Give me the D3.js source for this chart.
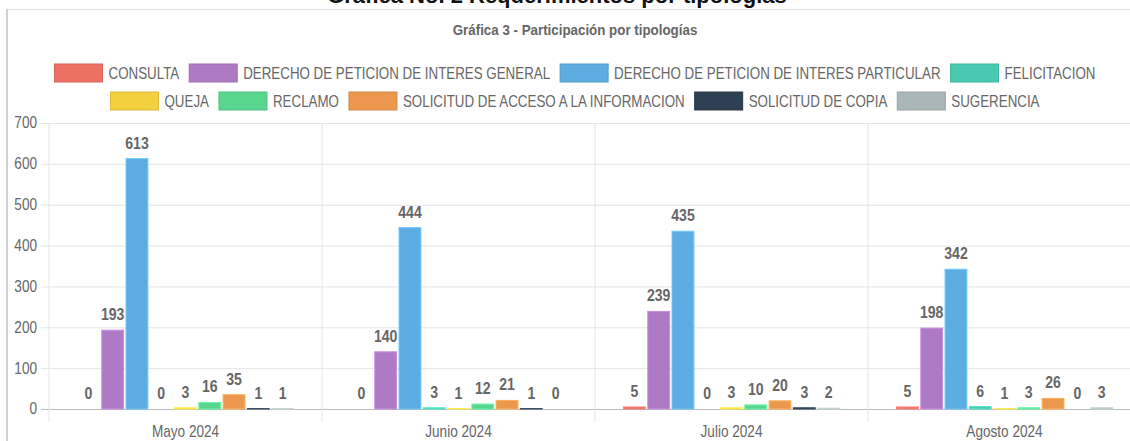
<!DOCTYPE html>
<html>
<head>
<meta charset="utf-8">
<script src="https://cdn.jsdelivr.net/npm/d3@7"></script>
<style>
  html, body { margin: 0; padding: 0; background: #fff; }
  svg { display: block; }
</style>
</head>
<body>
<div id="chart"></div>
<script>
// data
const months = ['Mayo 2024', 'Junio 2024', 'Julio 2024', 'Agosto 2024'];
const series = [
  'CONSULTA',
  'DERECHO DE PETICION DE INTERES GENERAL',
  'DERECHO DE PETICION DE INTERES PARTICULAR',
  'FELICITACION',
  'QUEJA',
  'RECLAMO',
  'SOLICITUD DE ACCESO A LA INFORMACION',
  'SOLICITUD DE COPIA',
  'SUGERENCIA'
];
const consulta      = [0, 0, 5, 5];
const derechoGen    = [193, 140, 239, 198];
const derechoPart   = [613, 444, 435, 342];
const felicitacion  = [0, 3, 0, 6];
const queja         = [3, 1, 3, 1];
const reclamo       = [16, 12, 10, 3];
const solAcceso     = [35, 21, 20, 26];
const solCopia      = [1, 1, 3, 0];
const sugerencia    = [1, 0, 2, 3];
const values = [consulta, derechoGen, derechoPart, felicitacion, queja, reclamo, solAcceso, solCopia, sugerencia];
const colors = ['#EC7063', '#AF7AC5', '#5DADE2', '#48C9B0', '#F4D03F', '#58D68D', '#EB984E', '#2E4053', '#AAB7B8'];
const yTicks = [0, 100, 200, 300, 400, 500, 600, 700];

const width = 1130, height = 441;
const font = '"Liberation Sans", Arial, sans-serif';
const textGrey = '#666';
// no narrow font installed, so squeeze the glyphs sideways
const squeeze = 0.85;
const legend_squeeze = 0.835;

const margin = {top: 123, bottom: 409, left: 49, right: 1141};
const legend_box = {width: 48, height: 18, gap: 6, pad: 10};

const svg = d3.select('#chart').append('svg').attr('width', width).attr('height', height);

// text helper: places a horizontally condensed label
function narrowText(parent, x, y, str, size, opts = {}) {
  const s = opts.scale || squeeze;
  return parent.append('text')
    .attr('transform', `translate(${x},${y}) scale(${s},1)`)
    .attr('text-anchor', opts.anchor || 'start')
    .attr('dy', opts.dy || null)
    .style('font-family', font)
    .style('font-size', size + 'px')
    .style('font-weight', opts.bold ? 'bold' : null)
    .attr('fill', opts.fill || textGrey)
    .text(str);
}

// card frame
svg.append('line').attr('x1', 7).attr('x2', width).attr('y1', 9.5).attr('y2', 9.5)
  .attr('stroke', '#ddd').attr('stroke-width', 1);
svg.append('line').attr('x1', 7).attr('x2', 7).attr('y1', 9).attr('y2', height)
  .attr('stroke', '#d0d0d0').attr('stroke-width', 2);

// page heading above the card (cut by the top edge, like the reference)
svg.append('text')
  .attr('x', 557).attr('y', 3)
  .attr('text-anchor', 'middle')
  .style('font-family', font)
  .style('font-weight', 'bold').style('font-size', '22px')
  .attr('fill', '#111')
  .text('Gráfica No. 2 Requerimientos por tipologías');

// chart title
narrowText(svg, 575, 35, 'Gráfica 3 - Participación por tipologías', 15, {anchor: 'middle', bold: true, scale: 0.89});

// legend, wrapped and centred like chart.js does
const legend = svg.append('g').attr('class', 'legend');
const items = series.map((name, i) => {
  const g = legend.append('g');
  g.append('rect')
    .attr('width', legend_box.width).attr('height', legend_box.height)
    .attr('fill', colors[i])
    .attr('stroke', d3.color(colors[i]).darker(0.3)).attr('stroke-width', 1);
  const t = narrowText(g, legend_box.width + legend_box.gap, legend_box.height / 2, name, 16,
    {dy: '0.36em', scale: legend_squeeze});
  const w = legend_box.width + legend_box.gap + t.node().getComputedTextLength() * legend_squeeze;
  return {g, w};
});
const rows = [[]];
let rowW = 0;
items.forEach(it => {
  const cur = rows[rows.length - 1];
  const add = (cur.length ? legend_box.pad : 0) + it.w;
  if (rowW + add > 1110 && cur.length) {
    rows.push([it]);
    rowW = it.w;
  } else {
    cur.push(it);
    rowW += add;
  }
});
rows.forEach((row, r) => {
  const total = d3.sum(row, d => d.w) + legend_box.pad * (row.length - 1);
  let x = 575 - total / 2;
  row.forEach(it => {
    it.g.attr('transform', `translate(${x},${64 + r * 28})`);
    x += it.w + legend_box.pad;
  });
});

// scales
const x = d3.scaleBand().domain(months).range([margin.left, margin.right]);
const bw = x.bandwidth();
const xs = d3.scaleBand().domain(d3.range(series.length))
  .range([bw * 0.1, bw * 0.9]).paddingInner(0.1).paddingOuter(0.05);
const y = d3.scaleLinear().domain([0, 700]).range([margin.bottom, margin.top]);

// horizontal grid + y labels
const yAxis = svg.append('g')
  .attr('transform', `translate(${margin.left},0)`)
  .call(d3.axisLeft(y).tickValues(yTicks).tickSize(-(margin.right - margin.left)).tickFormat(''));
yAxis.select('.domain').remove();
yAxis.selectAll('.tick line')
  .attr('x1', -8)
  .attr('stroke', d => d === 0 ? '#bbb' : '#e5e5e5');
yTicks.forEach(t => narrowText(svg, 37, y(t), t, 16, {anchor: 'end', dy: '0.34em'}));

// vertical grid at category edges
svg.append('g').selectAll('line')
  .data(months.map(m => x(m)).concat([margin.right]))
  .join('line')
  .attr('x1', d => d).attr('x2', d => d)
  .attr('y1', margin.top).attr('y2', margin.bottom + 13)
  .attr('stroke', '#e5e5e5');

// x labels
months.forEach(m => narrowText(svg, x(m) + bw / 2, 437, m, 16, {anchor: 'middle'}));

// bars
const flat = [];
months.forEach((m, mi) => values.forEach((vals, si) => flat.push({m, si, v: vals[mi]})));

const bars = svg.append('g');
bars.selectAll('rect')
  .data(flat.filter(d => d.v > 0))
  .join('rect')
  .attr('x', d => x(d.m) + xs(d.si))
  .attr('width', xs.bandwidth())
  .attr('y', d => y(d.v))
  .attr('height', d => y(0) - y(d.v))
  .attr('fill', d => colors[d.si])
  .attr('stroke', d => d3.color(colors[d.si]).brighter(0.4))
  .attr('stroke-width', 1);

// value labels
const labels = bars.append('g');
flat.forEach(d => {
  narrowText(labels, x(d.m) + xs(d.si) + xs.bandwidth() / 2, y(d.v) - 10, d.v, 16,
    {anchor: 'middle', bold: true, scale: 0.88});
});
</script>
</body>
</html>
